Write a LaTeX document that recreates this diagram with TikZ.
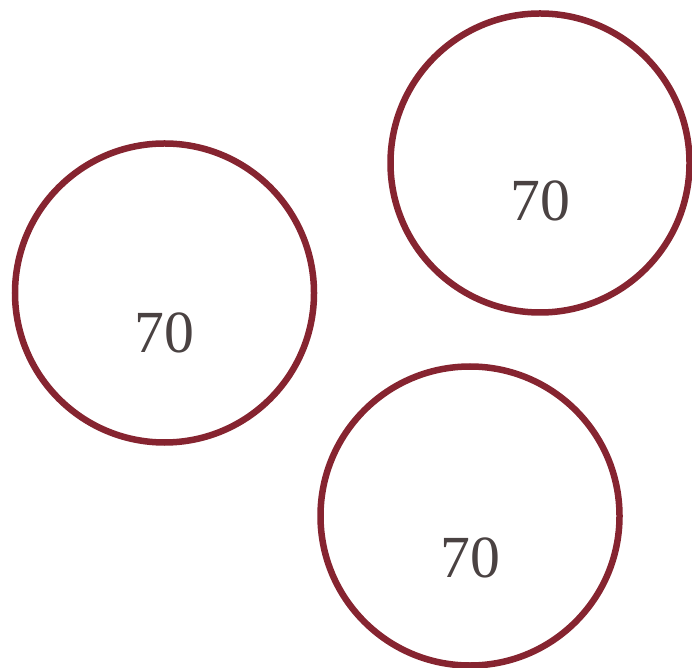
\documentclass[tikz,border=0pt]{standalone}
\usepackage{fontspec}
\setmainfont{Liberation Serif}
\usetikzlibrary{positioning}

\definecolor{ringred}{HTML}{862430}
\definecolor{numgray}{HTML}{4A4242}

\begin{document}
\begin{tikzpicture}[
    ring/.style={draw=ringred, line width=0.13cm, circle,
                 minimum size=5.98cm, inner sep=0pt},
    num/.style={font=\fontsize{34}{34}\selectfont, text=numgray}
  ]
  \useasboundingbox (0,0) rectangle (13.84,13.34);

  % rings
  \node[ring] (left)   at (3.29,7.48)  {};
  \node[ring] (top)    at (10.80,10.08) {};
  \node[ring] (bottom) at (9.40,3.02)  {};

  % numbers
  \node[num] (leftnum)   at ([yshift=-0.8cm]left.center)   {70};
  \node[num] (topnum)    at ([yshift=-0.76cm]top.center)   {70};
  \node[num] (bottomnum) at ([yshift=-0.84cm]bottom.center) {70};
\end{tikzpicture}
\end{document}
